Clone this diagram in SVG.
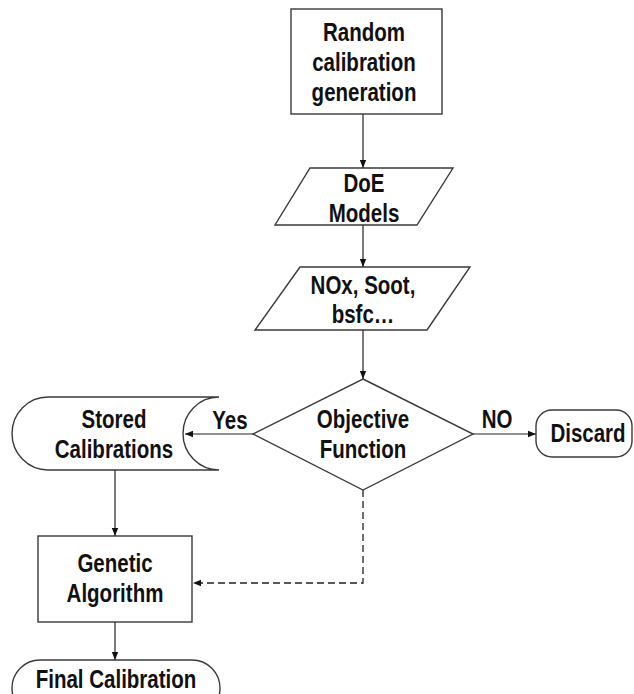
<svg xmlns="http://www.w3.org/2000/svg" width="634" height="694" viewBox="0 0 634 694">
<style>
.shape{fill:#fff;stroke:#3a3a3a;stroke-width:1.4}
.t{font-family:"Liberation Sans",Arial,sans-serif;font-weight:bold;font-size:25px;fill:#111;text-anchor:middle}
.c{fill:none;stroke:#222;stroke-width:1.2}
.d{fill:none;stroke:#222;stroke-width:1.3;stroke-dasharray:7 4}
</style>
<defs>
<marker id="ah" viewBox="0 0 10 10" refX="10" refY="5" markerWidth="8" markerHeight="8" markerUnits="userSpaceOnUse" orient="auto">
<path d="M0,1 L10,5 L0,9 Z" fill="#111"/>
</marker>
</defs>
<rect width="634" height="694" fill="#fff"/>
<g id="connectors">
<line class="c" x1="363" y1="114" x2="363" y2="168" marker-end="url(#ah)"/>
<line class="c" x1="363" y1="225" x2="363" y2="267" marker-end="url(#ah)"/>
<line class="c" x1="363" y1="330" x2="363" y2="379" marker-end="url(#ah)"/>
<line class="c" x1="253" y1="434" x2="185" y2="434" marker-end="url(#ah)"/>
<line class="c" x1="473" y1="434" x2="536" y2="434" marker-end="url(#ah)"/>
<line class="c" x1="115" y1="470" x2="115" y2="536" marker-end="url(#ah)"/>
<line class="c" x1="115" y1="622" x2="115" y2="660" marker-end="url(#ah)"/>
<polyline class="d" points="363,490 363,583 193,583" marker-end="url(#ah)"/>
<text class="t" transform="translate(230,429) scale(0.82,1)">Yes</text>
<text class="t" transform="translate(497,428) scale(0.82,1)">NO</text>
</g>
<g id="random">
<rect class="shape" x="291" y="9" width="151" height="105"/>
<text class="t" transform="translate(364,41) scale(0.82,1)">Random</text>
<text class="t" transform="translate(364,71) scale(0.82,1)">calibration</text>
<text class="t" transform="translate(364,101) scale(0.82,1)">generation</text>
</g>
<g id="doe">
<polygon class="shape" points="310,168 453,168 417,225 275,225"/>
<text class="t" transform="translate(364,192) scale(0.82,1)">DoE</text>
<text class="t" transform="translate(364,222) scale(0.82,1)">Models</text>
</g>
<g id="outputs">
<polygon class="shape" points="300,267 470,267 427,330 255,330"/>
<text class="t" transform="translate(363,294) scale(0.82,1)">NOx, Soot,</text>
<text class="t" transform="translate(363,323) scale(0.82,1)">bsfc…</text>
</g>
<g id="objective">
<polygon class="shape" points="363,379 473,434 363,490 253,434"/>
<text class="t" transform="translate(363,428) scale(0.82,1)">Objective</text>
<text class="t" transform="translate(363,458) scale(0.82,1)">Function</text>
</g>
<g id="discard">
<rect class="shape" x="536" y="410" width="96" height="47" rx="16"/>
<text class="t" transform="translate(588,442) scale(0.82,1)">Discard</text>
</g>
<g id="stored">
<path class="shape" d="M48,397 H219 A36,36.5 0 0 0 219,470 H48 A36,36.5 0 0 1 48,397 Z"/>
<text class="t" transform="translate(114,428) scale(0.82,1)">Stored</text>
<text class="t" transform="translate(114,458) scale(0.82,1)">Calibrations</text>
</g>
<g id="genetic">
<rect class="shape" x="38" y="536" width="154" height="86"/>
<text class="t" transform="translate(115,572) scale(0.82,1)">Genetic</text>
<text class="t" transform="translate(115,602) scale(0.82,1)">Algorithm</text>
</g>
<g id="final">
<rect class="shape" x="12" y="660" width="208" height="56" rx="28"/>
<text class="t" transform="translate(116,688) scale(0.82,1)">Final Calibration</text>
</g>
</svg>
